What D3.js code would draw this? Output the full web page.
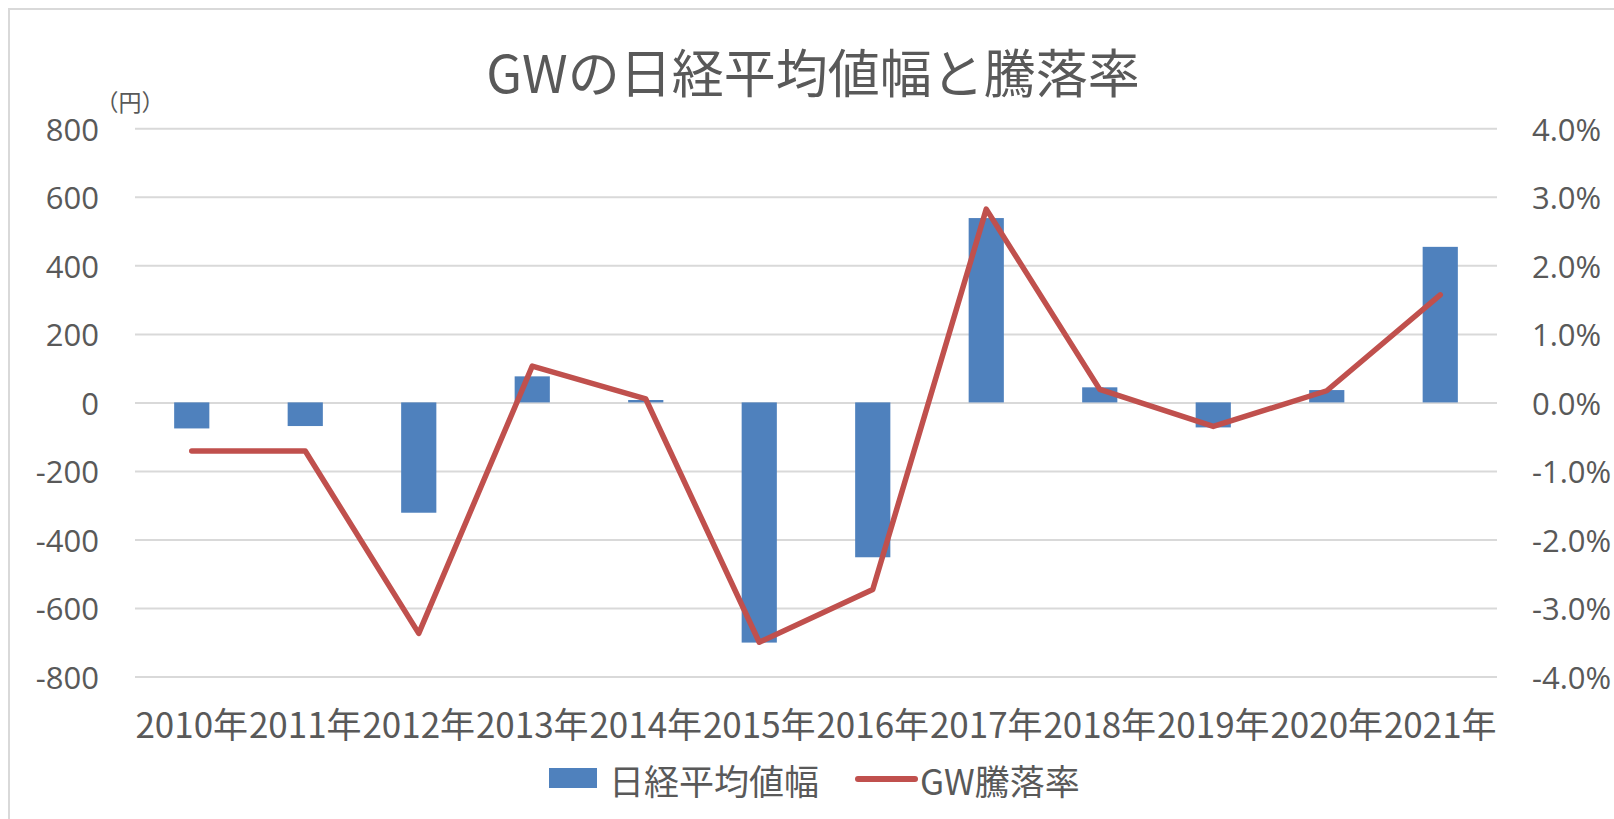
<!DOCTYPE html>
<html>
<head>
<meta charset="utf-8">
<script src="https://cdn.jsdelivr.net/npm/d3@7"></script>
<style>
  html, body { margin: 0; padding: 0; background: #fff; }
  svg { display: block; }
</style>
</head>
<body>
<svg id="chart" width="1614" height="819"></svg>
<script>
// ---- data ----
const categories = ["2010年","2011年","2012年","2013年","2014年","2015年","2016年","2017年","2018年","2019年","2020年","2021年"];
const priceChange = [-76, -69, -322, 76, 7, -701, -452, 538, 44, -73, 36, 454];     // 日経平均値幅 (円)
const changeRate  = [-0.71, -0.71, -3.37, 0.53, 0.05, -3.50, -2.73, 2.82, 0.19, -0.35, 0.17, 1.57]; // GW騰落率 (%)
const leftTicks  = [800, 600, 400, 200, 0, -200, -400, -600, -800];
const rightTicks = [4, 3, 2, 1, 0, -1, -2, -3, -4];
const titleText = "GWの日経平均値幅と騰落率";
const unitText = "（円）";
const seriesNames = ["日経平均値幅", "GW騰落率"];

// ---- layout ----
const svg = d3.select("#chart");
const W = 1614, H = 819;
const plot = { left: 135, right: 1497, top: 128.3, bottom: 676.5 };
const textColor = "#595959";
const gridColor = "#d9d9d9";
const barColor = "#4F81BD";
const lineColor = "#C0504D";
const cjk = "'Noto Sans CJK JP', 'Noto Sans', sans-serif";
const numFont = "'Open Sans', 'Noto Sans', sans-serif";

svg.append("rect").attr("width", W).attr("height", H).attr("fill", "#fff");
// chart area border
svg.append("rect").attr("x", 9).attr("y", 9).attr("width", W + 20).attr("height", H + 20)
  .attr("fill", "none").attr("stroke", gridColor).attr("stroke-width", 2);

const x = d3.scaleBand().domain(categories).range([plot.left, plot.right])
  .paddingInner(0.69).paddingOuter(0.345);
const yL = d3.scaleLinear().domain([-800, 800]).range([plot.bottom, plot.top]);
const yR = d3.scaleLinear().domain([-4, 4]).range([plot.bottom, plot.top]);

// left axis + gridlines
const gL = svg.append("g").attr("transform", `translate(${plot.left},0)`)
  .call(d3.axisLeft(yL).tickValues(leftTicks).tickSize(-(plot.right - plot.left)).tickPadding(36)
    .tickFormat(d => String(d)));
gL.select(".domain").remove();
gL.selectAll(".tick line").attr("stroke", gridColor).attr("stroke-width", 2);
gL.selectAll(".tick text").attr("fill", textColor).attr("font-family", numFont)
  .attr("font-size", 31).attr("dy", null).attr("dominant-baseline", "central");

// right axis
const gR = svg.append("g").attr("transform", `translate(${plot.right},0)`)
  .call(d3.axisRight(yR).tickValues(rightTicks).tickSize(0).tickPadding(35)
    .tickFormat(d => d.toFixed(1) + "%"));
gR.select(".domain").remove();
gR.selectAll(".tick text").attr("fill", textColor).attr("font-family", numFont)
  .attr("font-size", 31).attr("dy", null).attr("dominant-baseline", "central");

// x axis labels
const gX = svg.append("g").attr("transform", `translate(0,${plot.bottom})`)
  .call(d3.axisBottom(x).tickSize(0).tickPadding(0));
gX.select(".domain").remove();
gX.selectAll(".tick text").attr("fill", textColor).attr("font-family", cjk)
  .attr("font-size", 35).attr("y", 45.5).attr("dy", null).attr("dominant-baseline", "central");

// bars
svg.append("g").selectAll("rect").data(priceChange).join("rect")
  .attr("x", (d, i) => x(categories[i]))
  .attr("width", x.bandwidth())
  .attr("y", d => yL(Math.max(0, d)))
  .attr("height", d => Math.abs(yL(d) - yL(0)))
  .attr("fill", barColor);

// line
const line = d3.line()
  .x((d, i) => x(categories[i]) + x.bandwidth() / 2)
  .y(d => yR(d));
svg.append("path").datum(changeRate).attr("d", line)
  .attr("fill", "none").attr("stroke", lineColor).attr("stroke-width", 5.5)
  .attr("stroke-linejoin", "round").attr("stroke-linecap", "round");

// title
svg.append("text").attr("x", 813).attr("y", 70).attr("text-anchor", "middle")
  .attr("dominant-baseline", "central").attr("font-family", cjk).attr("font-size", 52)
  .attr("fill", textColor).text(titleText);

// unit label
svg.append("text").attr("x", 130).attr("y", 101).attr("text-anchor", "middle")
  .attr("dominant-baseline", "central").attr("font-family", cjk).attr("font-size", 23)
  .attr("fill", textColor).text(unitText);

// legend
const leg = svg.append("g");
leg.append("rect").attr("x", 549).attr("y", 768).attr("width", 48).attr("height", 20).attr("fill", barColor);
leg.append("text").attr("x", 609).attr("y", 779).attr("dominant-baseline", "central")
  .attr("font-family", cjk).attr("font-size", 35).attr("fill", textColor).text(seriesNames[0]);
leg.append("line").attr("x1", 858).attr("x2", 915).attr("y1", 779).attr("y2", 779)
  .attr("stroke", lineColor).attr("stroke-width", 6).attr("stroke-linecap", "round");
leg.append("text").attr("x", 920).attr("y", 779).attr("dominant-baseline", "central")
  .attr("font-family", cjk).attr("font-size", 35).attr("fill", textColor).text(seriesNames[1]);
</script>
</body>
</html>
